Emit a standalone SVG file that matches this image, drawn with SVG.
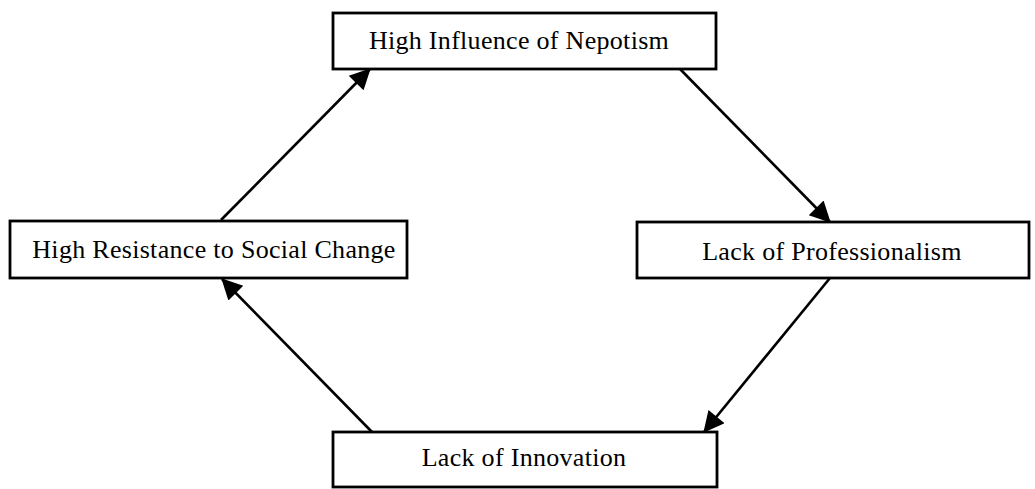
<svg xmlns="http://www.w3.org/2000/svg" width="1035" height="489" viewBox="0 0 1035 489">
  <style>
    .box { fill: #ffffff; stroke: #000000; stroke-width: 2.8; }
    .label { font-family: "Liberation Serif", "Times New Roman", serif; font-size: 26px; letter-spacing: 0.3px; fill: #000000; text-anchor: middle; }
    .link { stroke: #000000; stroke-width: 2.6; fill: none; marker-end: url(#head); }
  </style>
  <defs>
    <marker id="head" viewBox="0 0 10 10" refX="9.5" refY="5" markerWidth="10" markerHeight="8" markerUnits="strokeWidth" orient="auto">
      <path d="M0,0 L10,5 L0,10 Z" fill="#000000"/>
    </marker>
  </defs>

  <rect width="1035" height="489" fill="#ffffff"/>

  <g id="connectors">
    <line class="link" x1="221" y1="220" x2="370" y2="69"/>
    <line class="link" x1="680" y1="69" x2="830" y2="222"/>
    <line class="link" x1="830" y1="278" x2="704" y2="432"/>
    <line class="link" x1="372" y1="432" x2="222" y2="279"/>
  </g>

  <g id="node-nepotism">
    <rect class="box" x="333" y="13" width="383" height="56"/>
    <text class="label" x="519" y="49">High Influence of Nepotism</text>
  </g>

  <g id="node-resistance">
    <rect class="box" x="10" y="221" width="397" height="57"/>
    <text class="label" x="214" y="258">High Resistance to Social Change</text>
  </g>

  <g id="node-professionalism">
    <rect class="box" x="637" y="222" width="392" height="56"/>
    <text class="label" x="832" y="260">Lack of Professionalism</text>
  </g>

  <g id="node-innovation">
    <rect class="box" x="333" y="432" width="384" height="55"/>
    <text class="label" x="524" y="466">Lack of Innovation</text>
  </g>
</svg>
